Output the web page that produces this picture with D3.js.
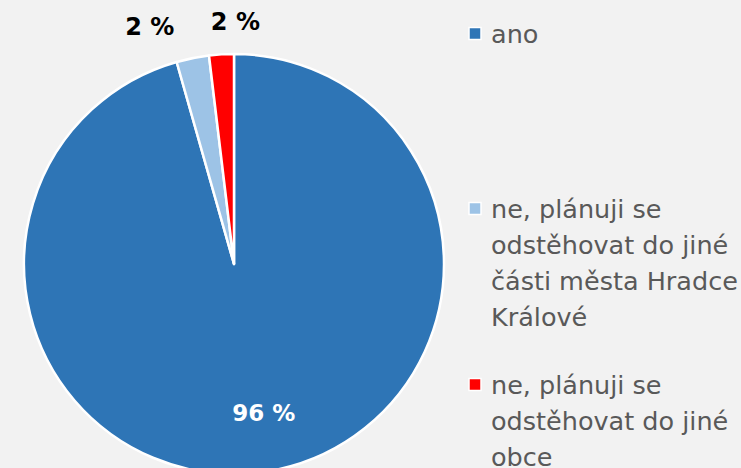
<!DOCTYPE html>
<html>
<head>
<meta charset="utf-8">
<script src="https://cdn.jsdelivr.net/npm/d3@7"></script>
<style>
  html, body { margin: 0; padding: 0; background: #f2f2f2; }
  svg { display: block; }
</style>
</head>
<body>
<svg id="chart" width="741" height="468"></svg>
<script>
// Answers: share of respondents (percent)
const categories = [
  "ano",
  "ne, plánuji se odstěhovat do jiné části města Hradce Králové",
  "ne, plánuji se odstěhovat do jiné obce"
];
const values = [95.6, 2.5, 1.9];
const valueLabels = ["96 %", "2 %", "2 %"];
const legendLines = [
  ["ano"],
  ["ne, plánuji se", "odstěhovat do jiné", "části města Hradce", "Králové"],
  ["ne, plánuji se", "odstěhovat do jiné", "obce"]
];
const colors = ["#2e75b6", "#9dc3e6", "#ff0000"];

const svg = d3.select("#chart");
const cx = 234, cy = 264, R = 210;
const font = "'DejaVu Sans', Verdana, sans-serif";

const color = d3.scaleOrdinal().domain(categories).range(colors);

// Clockwise from 12 o'clock, with the small slices ending at the top
const pie = d3.pie().sort(null).value(d => d.value)
  .startAngle(0).endAngle(2 * Math.PI);
const data = categories.map((c, i) => ({ name: c, value: values[i], label: valueLabels[i] }));
const arcs = pie(data);

const arc = d3.arc().innerRadius(0).outerRadius(R);
const g = svg.append("g").attr("transform", `translate(${cx},${cy})`);

g.selectAll("path.slice")
  .data(arcs)
  .join("path")
  .attr("class", "slice")
  .attr("d", arc)
  .attr("fill", d => color(d.data.name))
  .attr("stroke", "#ffffff")
  .attr("stroke-width", 2.5)
  .attr("stroke-linejoin", "round");

// Data labels: inside for the big slice, outside above the small ones
const innerArc = d3.arc().innerRadius(150).outerRadius(150);
const outerArc = d3.arc().innerRadius(245).outerRadius(245);
const labelNudge = [[9, 0], [-36, 3], [16, 3]];

g.selectAll("text.val")
  .data(arcs)
  .join("text")
  .attr("class", "val")
  .attr("transform", (d, i) => {
    const p = (i === 0 ? innerArc : outerArc).centroid(d);
    return `translate(${p[0] + labelNudge[i][0]},${p[1] + labelNudge[i][1]})`;
  })
  .attr("text-anchor", "middle")
  .attr("dominant-baseline", "central")
  .attr("font-family", font)
  .attr("font-weight", "bold")
  .attr("font-size", (d, i) => i === 0 ? "23px" : "24px")
  .attr("fill", (d, i) => i === 0 ? "#ffffff" : "#000000")
  .text(d => d.data.label);

// Legend
const legendX = 469, textX = 491, lineH = 35.9;
const firstBaselines = [43, 218, 394];
const legend = svg.append("g");

categories.forEach((c, i) => {
  const base = firstBaselines[i];
  legend.append("rect")
    .attr("x", legendX)
    .attr("y", base - 15.5)
    .attr("width", 12)
    .attr("height", 12)
    .attr("fill", color(c))
    .attr("stroke", "#ffffff")
    .attr("stroke-width", 1.5);
  const t = legend.append("text")
    .attr("x", textX)
    .attr("y", base)
    .attr("font-family", font)
    .attr("font-size", "25.5px")
    .attr("fill", "#595959");
  legendLines[i].forEach((line, j) => {
    t.append("tspan")
      .attr("x", textX)
      .attr("y", base + j * lineH)
      .text(line);
  });
});
</script>
</body>
</html>
